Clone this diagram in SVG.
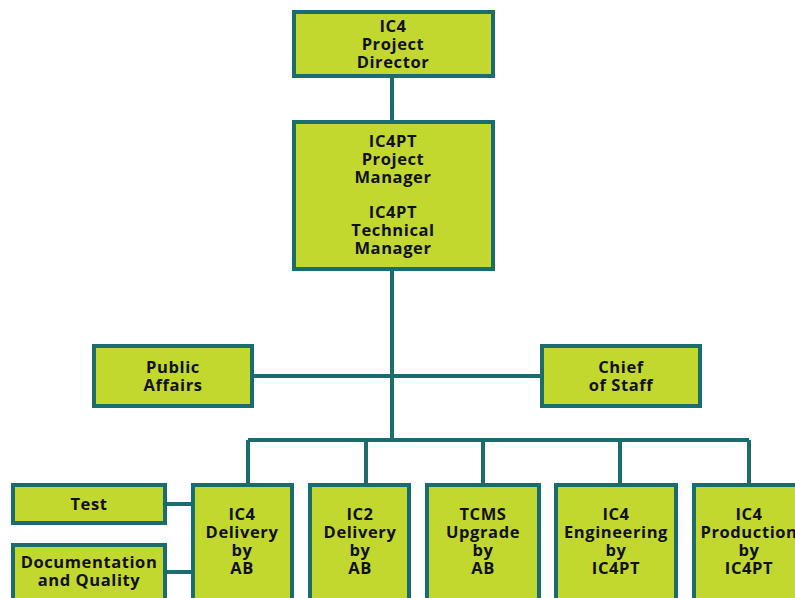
<svg xmlns="http://www.w3.org/2000/svg" width="795" height="598" viewBox="0 0 795 598">
<style>
.box{fill:#c2d82e;stroke:#1b6c6f;stroke-width:4}
.ln{stroke:#1b6c6f;stroke-width:4;fill:none}
text{font-family:"Open Sans","Liberation Sans",sans-serif;font-weight:bold;font-size:16.5px;fill:#111;text-anchor:middle;letter-spacing:0.6px}
</style>
<rect width="795" height="598" fill="#fff"/>
<g id="connectors">
<path class="ln" d="M392 77V121M392 270V440M252 376H542M248 440H749M248 440V484M366 440V484M483 440V484M620 440V484M749 440V484M165 504H192M165 572H192"/>
</g>
<g id="director"><rect class="box" x="294" y="12" width="199" height="64"/>
<text x="393" y="32">IC4</text><text x="393" y="50">Project</text><text x="393" y="68">Director</text></g>
<g id="manager"><rect class="box" x="294" y="122" width="199" height="147"/>
<text x="393" y="147">IC4PT</text><text x="393" y="165">Project</text><text x="393" y="183">Manager</text>
<text x="393" y="218">IC4PT</text><text x="393" y="236">Technical</text><text x="393" y="254">Manager</text></g>
<g id="public"><rect class="box" x="94" y="346" width="158" height="60"/>
<text x="173" y="373">Public</text><text x="173" y="391">Affairs</text></g>
<g id="chief"><rect class="box" x="542" y="346" width="158" height="60"/>
<text x="621" y="373">Chief</text><text x="621" y="391">of Staff</text></g>
<g id="test"><rect class="box" x="13" y="485" width="152" height="38"/>
<text x="89" y="510">Test</text></g>
<g id="doc"><rect class="box" x="13" y="545" width="152" height="60"/>
<text x="89" y="568">Documentation</text><text x="89" y="586">and Quality</text></g>
<g id="ic4del"><rect class="box" x="193" y="485" width="99" height="120"/>
<text x="242" y="520">IC4</text><text x="242" y="538">Delivery</text><text x="242" y="556">by</text><text x="242" y="574">AB</text></g>
<g id="ic2del"><rect class="box" x="310" y="485" width="99" height="120"/>
<text x="360" y="520">IC2</text><text x="360" y="538">Delivery</text><text x="360" y="556">by</text><text x="360" y="574">AB</text></g>
<g id="tcms"><rect class="box" x="427" y="485" width="112" height="120"/>
<text x="483" y="520">TCMS</text><text x="483" y="538">Upgrade</text><text x="483" y="556">by</text><text x="483" y="574">AB</text></g>
<g id="eng"><rect class="box" x="556" y="485" width="120" height="120"/>
<text x="616" y="520">IC4</text><text x="616" y="538">Engineering</text><text x="616" y="556">by</text><text x="616" y="574">IC4PT</text></g>
<g id="prod"><rect class="box" x="694" y="485" width="120" height="120"/>
<text x="749" y="520">IC4</text><text x="749" y="538">Production</text><text x="749" y="556">by</text><text x="749" y="574">IC4PT</text></g>
</svg>
